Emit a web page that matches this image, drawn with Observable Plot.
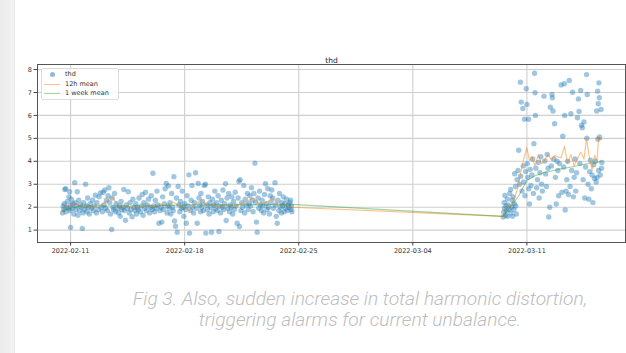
<!DOCTYPE html>
<html>
<head>
<meta charset="utf-8">
<script src="https://cdn.jsdelivr.net/npm/d3@7"></script>
<script src="https://cdn.jsdelivr.net/npm/@observablehq/plot@0.6"></script>
<style>
  html, body { margin: 0; padding: 0; background: #fff; }
  body { width: 626px; height: 353px; position: relative; overflow: hidden; font-family: "DejaVu Sans", sans-serif; }
  #strip { position: absolute; left: 0; top: 0; width: 14px; height: 353px; background: linear-gradient(to right, #ebebeb, #f3f3f3); border-right: 1px solid #e6e6e6; }
  #chart { position: absolute; left: 0; top: 0; }
  #legend { position: absolute; left: 41px; top: 68px; width: 76px; height: 30px; border: 1px solid #dcdcdc; border-radius: 2px; background: rgba(255,255,255,0.85); font-size: 6.5px; color: #333; }
  .li { position: absolute; left: 23px; line-height: 8px; }
  .sw { position: absolute; left: 2px; width: 16px; height: 0; }
  .dot { position: absolute; left: 7.5px; width: 5px; height: 5px; border-radius: 50%; background: rgba(31,119,180,0.5); }
  #caption { position: absolute; left: 104px; top: 288px; width: 512px; text-align: center; font-family: Roboto, "Open Sans", sans-serif; font-weight: 300; font-style: italic; font-size: 18px; line-height: 21px; color: #bdbdbd; white-space: nowrap; }
</style>
</head>
<body>
<div id="strip"></div>
<div id="chart"></div>
<div id="legend">
  <div class="dot" style="top:2.5px"></div><div class="li" style="top:1px">thd</div>
  <div class="sw" style="top:14.5px;border-top:1px solid rgba(255,127,14,0.5)"></div><div class="li" style="top:10.5px">12h mean</div>
  <div class="sw" style="top:24px;border-top:1px solid rgba(44,160,44,0.45)"></div><div class="li" style="top:20px">1 week mean</div>
</div>
<div id="caption"><span id="cap1">Fig 3. Also, sudden increase in total harmonic distortion,</span><br><span id="cap2">triggering alarms for current unbalance.</span></div>
<script>
// days are offsets from 2022-02-11 00:00 UTC
const thdPoints = [
[-0.5,1.75],[-0.45,2.05],[-0.42,1.9],[-0.38,2.15],[-0.35,2.77],[-0.3,2.8],[-0.28,1.8],[-0.25,2.0],[-0.2,2.25],[-0.15,1.95],[-0.1,2.45],[-0.06,2.67],[-0.03,1.85],[0,1.12],[0.02,2.1],
[0.05,2.35],[0.1,1.95],[0.15,2.15],[0.2,1.7],[0.25,3.07],[0.28,2.2],[0.32,1.9],[0.36,2.05],[0.41,2.67],[0.45,1.65],[0.5,2.3],[0.55,1.85],[0.6,2.1],[0.65,2.0],[0.72,1.07],[0.75,1.75],[0.8,2.2],[0.85,1.9],[0.92,3.0],[0.95,2.05],
[1.0,1.8],[1.05,2.4],[1.1,2.0],[1.15,1.7],[1.2,2.15],[1.28,1.95],[1.35,2.3],[1.4,1.85],[1.45,2.05],[1.52,2.52],[1.58,1.75],[1.62,2.2],[1.7,1.9],[1.75,2.45],[1.83,2.62],[1.88,2.0],[1.95,1.8],
[2.0,2.65],[2.05,2.1],[2.1,2.75],[2.15,1.95],[2.2,2.3],[2.25,1.85],[2.3,2.5],[2.35,2.85],[2.4,2.2],[2.45,1.7],[2.52,1.03],[2.55,2.4],[2.6,2.0],[2.65,1.9],[2.7,2.6],[2.75,1.8],[2.8,2.15],[2.9,1.95],[2.95,1.75],
[3.0,2.05],[3.05,1.6],[3.1,2.25],[3.15,1.9],[3.2,2.0],[3.27,2.77],[3.3,1.85],[3.37,1.43],[3.42,2.1],[3.48,1.95],[3.54,2.67],[3.6,1.75],[3.65,2.2],[3.7,1.9],[3.78,1.58],[3.82,2.35],[3.88,2.0],[3.95,1.85],
[4.0,2.15],[4.05,1.7],[4.1,2.0],[4.15,1.9],[4.2,2.4],[4.28,1.8],[4.35,2.05],[4.4,2.55],[4.45,1.65],[4.5,2.2],[4.55,1.95],[4.6,2.65],[4.65,1.85],[4.7,2.1],[4.78,2.35],[4.85,1.75],[4.9,2.0],[4.95,2.5],
[5.0,1.9],[5.05,3.48],[5.1,2.05],[5.15,1.8],[5.2,2.3],[5.25,1.95],[5.3,2.7],[5.35,2.1],[5.42,1.3],[5.48,1.85],[5.55,2.0],[5.6,1.35],[5.65,2.45],[5.7,1.9],[5.75,2.15],[5.8,2.8],[5.87,3.03],[5.92,1.75],[5.97,2.05],
[6.0,2.93],[6.05,1.95],[6.1,2.2],[6.15,1.7],[6.2,2.6],[6.25,2.0],[6.3,1.85],[6.34,3.33],[6.38,1.4],[6.44,1.17],[6.5,2.4],[6.54,0.91],[6.6,2.9],[6.65,2.1],[6.7,1.8],[6.75,2.25],[6.8,1.95],[6.85,2.7],[6.9,2.0],[6.95,1.6],
[7.0,2.15],[7.05,1.9],[7.1,1.3],[7.15,2.5],[7.2,2.05],[7.26,3.41],[7.3,0.87],[7.35,1.85],[7.4,2.3],[7.45,2.95],[7.5,2.0],[7.55,1.75],[7.6,2.2],[7.67,3.5],[7.72,1.95],[7.77,1.3],[7.83,3.03],[7.88,2.4],[7.93,2.1],[7.97,1.8],
[8.0,2.6],[8.05,2.0],[8.1,2.25],[8.15,1.85],[8.2,2.95],[8.28,3.0],[8.3,0.87],[8.35,2.1],[8.4,1.9],[8.45,2.45],[8.5,1.7],[8.55,2.2],[8.6,2.0],[8.65,0.91],[8.7,2.35],[8.75,1.8],[8.8,2.1],[8.85,2.7],[8.9,1.95],[8.95,2.2],
[9.0,1.85],[9.05,2.5],[9.1,0.94],[9.15,2.05],[9.2,1.75],[9.25,2.3],[9.3,2.0],[9.35,2.75],[9.4,1.9],[9.45,2.15],[9.51,3.02],[9.55,1.42],[9.6,2.4],[9.65,1.95],[9.7,2.6],[9.75,1.8],[9.8,2.1],[9.85,2.0],[9.9,2.45],[9.95,1.7],
[10.0,2.25],[10.05,1.9],[10.1,2.65],[10.15,2.05],[10.22,1.3],[10.28,2.4],[10.33,3.12],[10.36,1.16],[10.4,3.2],[10.45,1.85],[10.5,2.2],[10.55,2.0],[10.63,2.95],[10.68,1.75],[10.72,2.35],[10.78,2.1],[10.85,2.6],[10.9,1.9],[10.95,2.15],
[11.0,2.5],[11.05,2.05],[11.1,2.85],[11.15,2.3],[11.2,1.8],[11.25,2.6],[11.31,3.92],[11.35,2.2],[11.4,1.35],[11.45,0.91],[11.5,2.4],[11.55,1.95],[11.6,2.7],[11.65,2.1],[11.7,1.85],[11.75,2.3],[11.8,2.05],[11.85,1.75],[11.9,2.55],[11.96,3.02],
[12.0,2.15],[12.05,1.9],[12.1,2.8],[12.15,2.0],[12.2,1.7],[12.25,2.5],[12.3,2.2],[12.35,2.75],[12.4,2.4],[12.45,1.95],[12.54,3.07],[12.58,2.1],[12.62,1.6],[12.68,1.3],[12.72,2.3],[12.78,1.85],[12.82,2.6],[12.88,2.0],[12.93,1.75],[12.97,2.2],
[13.0,2.05],[13.05,2.45],[13.1,1.8],[13.15,2.15],[13.2,1.95],[13.25,2.35],[13.3,1.85],[13.35,2.1],[13.4,2.0],[13.45,2.2],[13.5,2.3],[13.52,1.9],[13.55,2.05],[13.58,1.8],
[26.55,1.57],[26.58,1.78],[26.6,2.2],[26.62,1.95],[26.65,2.51],[26.7,1.65],[26.72,2.05],[26.75,1.85],[26.8,2.35],[26.82,1.6],[26.85,2.1],[26.9,1.9],[26.95,2.6],[27.0,2.77],[27.02,1.75],[27.05,2.0],[27.1,2.3],[27.12,1.6],[27.15,2.45],[27.2,1.9],[27.22,2.15],[27.25,3.46],[27.3,2.9],[27.32,2.05],[27.35,1.7],[27.4,3.2],[27.45,3.6],[27.5,4.48],[27.55,3.0],[27.6,7.45],[27.62,3.35],[27.65,6.58],[27.7,2.7],[27.75,6.3],[27.78,3.8],[27.8,3.1],[27.85,5.83],[27.88,2.5],[27.92,3.55],[27.96,7.16],[28.0,6.48],[28.02,3.9],[28.05,3.3],[28.1,5.83],[28.12,2.8],[28.16,2.14],[28.2,3.65],[28.25,2.95],[28.3,3.4],[28.35,4.1],[28.4,2.6],[28.43,4.77],[28.47,7.84],[28.5,6.99],[28.52,6.0],[28.55,3.7],[28.6,2.85],[28.65,3.2],[28.7,3.95],[28.75,2.4],[28.8,3.5],[28.85,4.2],[28.9,3.0],[28.95,2.7],[29.05,6.84],[29.1,4.01],[29.15,3.45],[29.2,2.9],[29.25,4.3],[29.3,3.7],[29.34,1.57],[29.4,2.0],[29.44,6.36],[29.5,3.8],[29.54,6.91],[29.56,6.77],[29.6,6.19],[29.65,4.1],[29.7,5.64],[29.75,3.3],[29.8,2.14],[29.85,4.0],[29.9,3.6],[29.95,2.5],[30.0,3.9],[30.1,7.33],[30.15,2.65],[30.2,5.09],[30.25,3.75],[30.3,7.38],[30.32,6.0],[30.35,1.88],[30.4,2.7],[30.45,3.2],[30.5,4.0],[30.55,2.55],[30.6,7.52],[30.65,2.9],[30.7,6.07],[30.75,3.6],[30.8,7.01],[30.85,2.45],[30.9,3.3],[30.95,4.1],[31.0,2.7],[31.05,3.5],[31.1,5.9],[31.16,6.72],[31.2,6.17],[31.25,3.9],[31.3,7.09],[31.35,5.57],[31.4,5.46],[31.45,3.2],[31.5,5.71],[31.55,2.4],[31.6,3.75],[31.66,7.78],[31.68,5.01],[31.7,6.91],[31.75,3.0],[31.8,2.35],[31.85,3.55],[31.9,4.05],[31.95,2.8],[32.0,3.4],[32.05,2.2],[32.1,3.85],[32.15,3.25],[32.2,4.0],[32.25,3.1],[32.28,6.19],[32.3,3.3],[32.34,7.06],[32.36,4.96],[32.38,6.51],[32.4,3.6],[32.42,7.42],[32.44,6.77],[32.46,5.06],[32.5,3.4],[32.55,6.26],[32.58,3.7],[32.6,3.95]
];
const mean12h = [
[-0.5,1.8],[-0.3,2.1],[0,2.05],[0.3,2.15],[0.6,2.0],[1.0,2.1],[1.3,1.95],[1.6,2.05],[2.0,2.15],[2.3,2.3],[2.55,2.45],[2.8,2.2],[3.1,1.95],[3.5,2.05],[3.9,1.95],[4.3,2.0],[4.7,2.1],[5.1,2.0],[5.5,2.15],[5.9,2.05],[6.3,2.22],[6.7,2.05],[7.0,2.0],[7.3,1.85],[7.6,2.1],[8.0,2.3],[8.4,2.05],[8.8,2.1],[9.2,2.0],[9.6,2.1],[10.0,2.0],[10.4,2.15],[10.8,2.25],[11.2,2.4],[11.6,2.15],[12.0,2.2],[12.35,2.38],[12.7,2.15],[13.1,2.1],[13.58,2.0],
[26.55,1.6],[26.75,2.05],[27.0,2.1],[27.2,2.3],[27.45,2.87],[27.65,3.6],[27.8,4.1],[28.0,4.59],[28.15,4.04],[28.3,4.2],[28.5,3.8],[28.7,4.3],[28.9,3.9],[29.05,4.0],[29.3,4.3],[29.5,4.05],[29.7,4.25],[29.9,4.2],[30.1,4.15],[30.3,4.65],[30.5,3.9],[30.7,4.3],[30.9,3.8],[31.1,4.1],[31.3,4.4],[31.5,4.1],[31.66,5.0],[31.8,4.3],[32.0,3.6],[32.15,4.26],[32.3,4.0],[32.4,5.06],[32.6,4.95]
];
const mean1w = [
[-0.5,1.85],[0,1.95],[0.5,2.05],[1.5,2.05],[3,2.05],[5,2.05],[7,2.1],[9,2.1],[11,2.1],[13.58,2.12],
[26.55,1.6],[26.8,1.85],[27.1,2.1],[27.5,2.5],[27.8,2.9],[28.0,3.16],[28.5,3.37],[29.1,3.51],[30.0,3.66],[30.8,3.76],[31.6,3.88],[32.3,3.95],[32.6,4.0]
];
const xTickDays = [0, 7, 14, 21, 28];
const yTicks = [1, 2, 3, 4, 5, 6, 7, 8];
const titleText = "thd";

const base = Date.UTC(2022, 1, 11);
const toDate = d => new Date(base + d * 864e5);
const pts = thdPoints.map(([d, v]) => ({t: toDate(d), v}));
const m12 = mean12h.map(([d, v]) => ({t: toDate(d), v}));
const m1w = mean1w.map(([d, v]) => ({t: toDate(d), v}));
const xTicks = xTickDays.map(toDate);

const chart = Plot.plot({
  width: 626,
  height: 265,
  marginLeft: 37,
  marginRight: 1,
  marginTop: 64,
  marginBottom: 23,
  style: {fontFamily: "DejaVu Sans, sans-serif", fontSize: "6.5px", color: "#333", background: "transparent"},
  x: {type: "utc", domain: [toDate(-2.03), toDate(34.05)]},
  y: {domain: [0.46, 8.22]},
  marks: [
    Plot.gridX(xTicks, {stroke: "#cfcfcf", strokeOpacity: 1, strokeWidth: 1.1}),
    Plot.gridY(yTicks, {stroke: "#cfcfcf", strokeOpacity: 1, strokeWidth: 1.1}),
    Plot.dot(pts, {x: "t", y: "v", r: 2.7, fill: "#1f77b4", fillOpacity: 0.42, stroke: null}),
    Plot.line(m12, {x: "t", y: "v", stroke: "#ff7f0e", strokeOpacity: 0.5, strokeWidth: 1.1}),
    Plot.line(m1w, {x: "t", y: "v", stroke: "#2ca02c", strokeOpacity: 0.45, strokeWidth: 1.1}),
    Plot.frame({stroke: "#555", strokeWidth: 1}),
    Plot.axisX({ticks: xTicks, tickFormat: d3.utcFormat("%Y-%m-%d"), tickSize: 3.5, tickPadding: 2, label: null, stroke: "#444"}),
    Plot.axisY({ticks: yTicks, tickFormat: d => String(d), tickSize: 3.5, tickPadding: 2, label: null, stroke: "#444"}),
    Plot.text([titleText], {frameAnchor: "top", dy: -7, text: d => d, fontSize: 7.5, fill: "#222"})
  ]
});
document.getElementById("chart").appendChild(chart);

// size the caption so that its first line spans about 455px, as in the reference
const cap1 = document.getElementById("cap1");
const w = cap1.getBoundingClientRect().width;
if (w > 0) {
  const fs = Math.min(20, 18 * 455 / w);
  document.getElementById("caption").style.fontSize = fs.toFixed(2) + "px";
}
</script>
</body>
</html>
